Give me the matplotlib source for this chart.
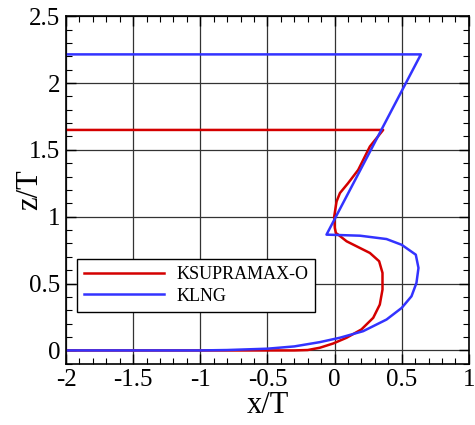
import matplotlib
matplotlib.use("Agg")
import matplotlib.pyplot as plt
from matplotlib.ticker import MultipleLocator

plt.rcParams['font.family'] = ['Liberation Serif', 'DejaVu Serif']

# Profile of KSUPRAMAX-O (x/T, z/T)
ksupramax_x = [-2.0, -0.3, -0.2, -0.11, -0.01, 0.09, 0.2, 0.288, 0.337, 0.357,
               0.357, 0.332, 0.263, 0.09, 0.027, 0.01, 0.002, -0.003, 0.015,
               0.04, 0.1, 0.176, 0.263, 0.362, -2.0]
ksupramax_z = [0.0, 0.0, 0.003, 0.02, 0.052, 0.095, 0.157, 0.244, 0.343, 0.455,
               0.58, 0.667, 0.729, 0.816, 0.866, 0.878, 0.915, 1.0, 1.114,
               1.177, 1.25, 1.35, 1.525, 1.649, 1.649]

# Profile of KLNG (x/T, z/T)
klng_x = [-2.0, -1.0, -0.8, -0.5, -0.3, -0.11, 0.04, 0.213, 0.387, 0.5, 0.573,
          0.61, 0.625, 0.605, 0.5, 0.387, 0.19, -0.06, 0.643, -2.0]
klng_z = [0.0, 0.0, 0.003, 0.013, 0.03, 0.062, 0.095, 0.144, 0.231, 0.318, 0.405,
          0.505, 0.617, 0.716, 0.79, 0.833, 0.858, 0.866, 2.214, 2.214]

fig = plt.figure(figsize=(4.75, 4.25), dpi=100)
ax = fig.add_axes([0.139, 0.144, 0.848, 0.818])

ax.plot(ksupramax_x, ksupramax_z, color='#d40000', lw=1.8, label='KSUPRAMAX-O')
ax.plot(klng_x, klng_z, color='#3333ff', lw=1.8, label='KLNG')

ax.set_xlim(-2, 1)
ax.set_ylim(-0.1, 2.5)
ax.xaxis.set_minor_locator(MultipleLocator(0.1))
ax.yaxis.set_minor_locator(MultipleLocator(0.1))
ax.set_xticks([-2, -1.5, -1, -0.5, 0, 0.5, 1])
ax.set_xticklabels(['-2', '-1.5', '-1', '-0.5', '0', '0.5', '1'])
ax.set_yticks([0, 0.5, 1, 1.5, 2, 2.5])
ax.set_yticklabels(['0', '0.5', '1', '1.5', '2', '2.5'])

ax.tick_params(which='both', direction='in', top=True, right=True, labelsize=18)
ax.tick_params(which='major', length=7, width=1, pad=4)
ax.tick_params(which='minor', length=4, width=0.8)
ax.grid(True, which='major', color='#333333', lw=0.9)
for s in ax.spines.values():
    s.set_linewidth(1.2)

ax.set_xlabel('x/T', fontsize=22, labelpad=0)
ax.set_ylabel('z/T', fontsize=22)
ax.yaxis.set_label_coords(-0.055, 0.5)

leg = ax.legend(loc='upper left', bbox_to_anchor=(0.027, 0.302), borderaxespad=0,
                fontsize=13, handlelength=4.4, handletextpad=0.7, fancybox=False,
                framealpha=1, edgecolor='black', borderpad=0.4, labelspacing=0.25)
leg.get_frame().set_linewidth(1.0)

fig.savefig('out.png', dpi=100)
